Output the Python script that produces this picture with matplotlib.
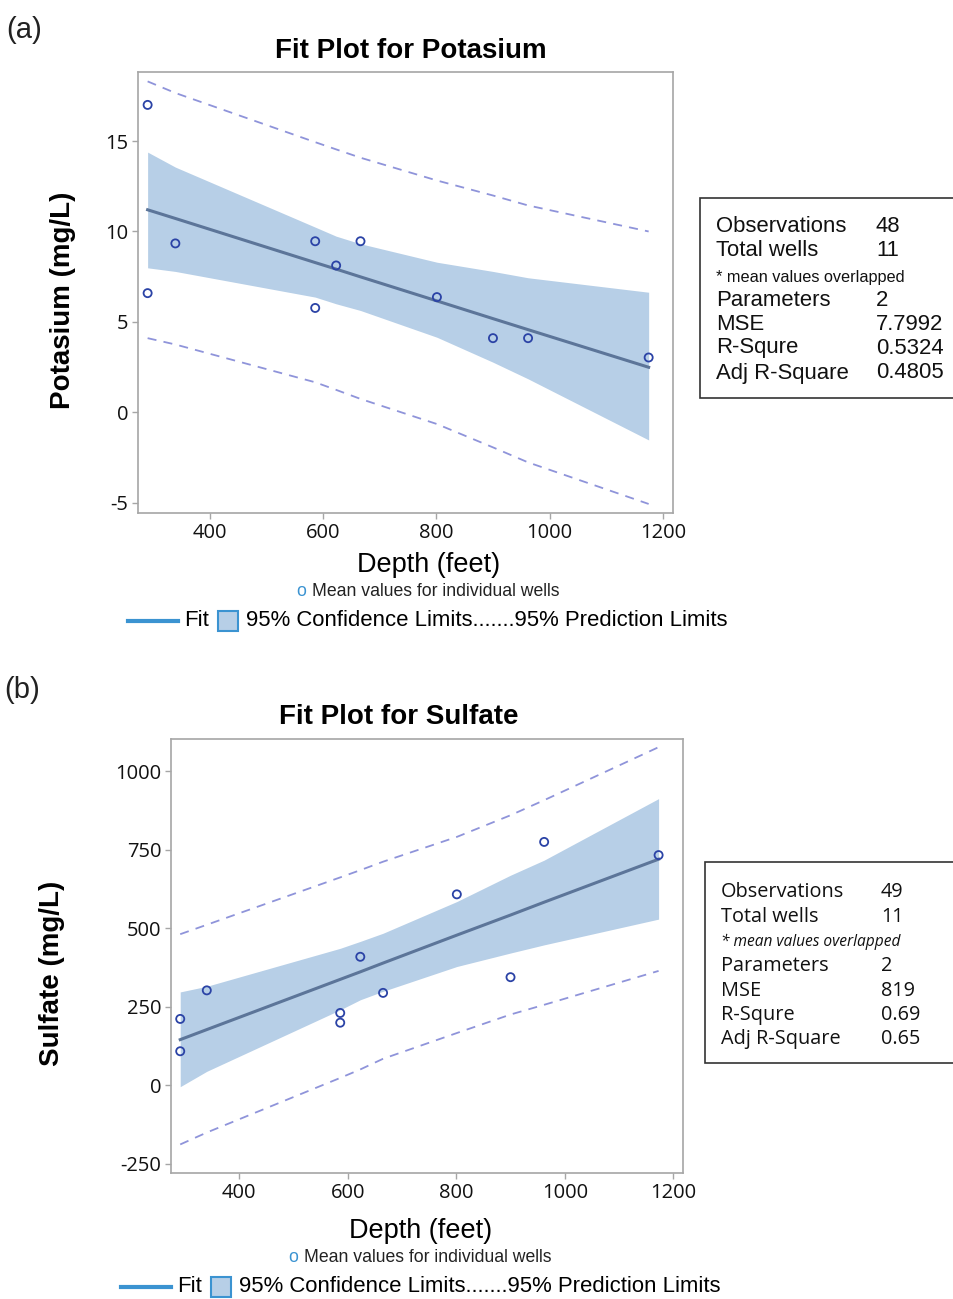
import matplotlib
matplotlib.use("Agg")
import matplotlib.pyplot as plt
from matplotlib.patches import Rectangle
from matplotlib.lines import Line2D

plt.rcParams['font.family'] = ['Liberation Sans', 'DejaVu Sans']
plt.rcParams['axes.unicode_minus'] = False

# ---------------- Data: Potassium ----------------
k_depth = [290, 339, 290, 586, 586, 623, 666, 801, 900, 962, 1175]
k_value = [17.0, 9.34, 6.59, 9.46, 5.77, 8.12, 9.46, 6.37, 4.10, 4.10, 3.03]
k_grid = [290, 339, 586, 623, 666, 801, 900, 962, 1175]
k_fit = [11.20, 10.72, 8.28, 7.92, 7.49, 6.16, 5.18, 4.57, 2.49]
k_cl_up = [14.39, 13.56, 10.24, 9.74, 9.32, 8.30, 7.79, 7.44, 6.64]
k_cl_lo = [7.99, 7.79, 6.37, 6.00, 5.63, 4.15, 2.77, 1.85, -1.53]
k_pl_up = [18.30, 17.66, 14.94, 14.54, 14.08, 12.82, 11.99, 11.44, 10.00]
k_pl_lo = [4.10, 3.75, 1.66, 1.24, 0.74, -0.65, -1.94, -2.77, -5.07]
k_xticks = [400, 600, 800, 1000, 1200]
k_yticks = [-5, 0, 5, 10, 15]

# ---------------- Data: Sulfate ----------------
s_depth = [291, 291, 340, 586, 586, 623, 665, 801, 900, 962, 1173]
s_value = [211, 108, 302, 230, 199, 409, 294, 608, 344, 775, 733]
s_grid = [291, 340, 586, 623, 665, 801, 900, 962, 1173]
s_fit = [145, 177, 337, 361, 389, 478, 542, 583, 720]
s_cl_up = [297, 315, 436, 458, 484, 585, 669, 717, 913]
s_cl_lo = [-5, 44, 240, 272, 299, 378, 421, 447, 529]
s_pl_up = [481, 511, 662, 685, 712, 791, 860, 908, 1077]
s_pl_lo = [-189, -151, 23, 50, 84, 166, 225, 256, 364]
s_xticks = [400, 600, 800, 1000, 1200]
s_yticks = [-250, 0, 250, 500, 750, 1000]

k_stats = [("Observations", "48"), ("Total wells", "11"), ("* mean values overlapped", None),
           ("Parameters", "2"), ("MSE", "7.7992"), ("R-Squre", "0.5324"), ("Adj R-Square", "0.4805")]
s_stats = [("Observations", "49"), ("Total wells", "11"), ("* mean values overlapped", None),
           ("Parameters", "2"), ("MSE", "819"), ("R-Squre", "0.69"), ("Adj R-Square", "0.65")]

W, H = 954, 1299
fig = plt.figure(figsize=(W / 100, H / 100), dpi=100)


def fx(x):
    return x / W


def fy(y):
    return 1 - y / H


FILL = '#b7cfe7'
FITC = '#5c7599'
DASHC = '#8f94da'
PTC = '#2b43a6'
SPINE = '#a6a6a6'
BLUE = '#3b93d1'


def panel(rect, grid, fit, clu, cll, plu, pll, xs, ys, xlim, ylim, xticks, yticks):
    ax = fig.add_axes(rect)
    ax.fill_between(grid, cll, clu, color=FILL, lw=0, zorder=1)
    ax.plot(grid, fit, color=FITC, lw=2.2, zorder=2)
    ax.plot(grid, plu, color=DASHC, lw=1.3, dashes=(5, 4), zorder=2)
    ax.plot(grid, pll, color=DASHC, lw=1.3, dashes=(5, 4), zorder=2)
    ax.scatter(xs, ys, s=34, facecolors='none', edgecolors=PTC, linewidths=1.3, zorder=3)
    ax.set_xlim(*xlim)
    ax.set_ylim(*ylim)
    ax.set_xticks(xticks)
    ax.set_yticks(yticks)
    for sp in ax.spines.values():
        sp.set_color(SPINE)
        sp.set_linewidth(1.2)
    ax.tick_params(direction='out', length=4, width=1, color=SPINE,
                   labelsize=14.5, labelcolor='#111111', pad=3)
    for lab in ax.get_xticklabels() + ax.get_yticklabels():
        lab.set_family(['Open Sans', 'DejaVu Sans'])
    return ax


# ---------------- Panel (a) ----------------
ax1 = panel([fx(138), fy(513), fx(673) - fx(138), fy(72) - fy(513)],
            k_grid, k_fit, k_cl_up, k_cl_lo, k_pl_up, k_pl_lo,
            k_depth, k_value, (273, 1218), (-5.57, 18.82), k_xticks, k_yticks)

# ---------------- Panel (b) ----------------
ax2 = panel([fx(171), fy(1173), fx(683) - fx(171), fy(739) - fy(1173)],
            s_grid, s_fit, s_cl_up, s_cl_lo, s_pl_up, s_pl_lo,
            s_depth, s_value, (274, 1218), (-280, 1103), s_xticks, s_yticks)


def annotations(label_xy, title, title_xy, ylabel, ylabel_xy, xlabel_xy, note_x, note_y, leg_y, leg_x0):
    fig.text(fx(label_xy[0]), fy(label_xy[1]), label_xy[2], fontsize=21, ha='left', va='center', color='#222222')
    fig.text(fx(title_xy[0]), fy(title_xy[1]), title, fontsize=20, fontweight='bold', ha='center', va='center')
    fig.text(fx(ylabel_xy[0]), fy(ylabel_xy[1]), ylabel, fontsize=20, fontweight='bold', rotation=90,
             ha='center', va='center')
    fig.text(fx(xlabel_xy[0]), fy(xlabel_xy[1]), "Depth (feet)", fontsize=19.5, ha='center', va='center')
    # note line
    fig.text(fx(note_x), fy(note_y), "Mean values for individual wells", fontsize=12.7,
             ha='left', va='center', color='#222222')
    fig.text(fx(note_x - 11), fy(note_y), "o", fontsize=12.7, ha='center', va='center', color=BLUE)
    # legend row
    fig.add_artist(Line2D([fx(leg_x0), fx(leg_x0 + 50)], [fy(leg_y), fy(leg_y)], color=BLUE, lw=3,
                          transform=fig.transFigure))
    fig.text(fx(leg_x0 + 56), fy(leg_y), "Fit", fontsize=15.9, ha='left', va='center')
    fig.add_artist(Rectangle((fx(leg_x0 + 90), fy(leg_y + 10)), fx(20), 20 / H, facecolor=FILL,
                             edgecolor=BLUE, lw=1.5, transform=fig.transFigure))
    fig.text(fx(leg_x0 + 118), fy(leg_y), "95% Confidence Limits.......95% Prediction Limits",
             fontsize=15.9, ha='left', va='center')


annotations((6, 30, "(a)"), "Fit Plot for Potasium", (411, 51), "Potasium (mg/L)", (63, 300),
            (429, 565), 312, 591, 621, 128)
annotations((4, 690, "(b)"), "Fit Plot for Sulfate", (399, 717), "Sulfate (mg/L)", (52, 973),
            (421, 1231), 304, 1257, 1287, 121)


def stats_box(x0, y0, y1, xval, rows_y, stats, family, size, small, italic):
    fig.add_artist(Rectangle((fx(x0), fy(y1)), fx(W + 20 - x0), (y1 - y0) / H, facecolor='white',
                             edgecolor='#333333', lw=1.2, transform=fig.transFigure, clip_on=False))
    for (name, val), yy in zip(stats, rows_y):
        if val is None:
            fig.text(fx(x0 + 16), fy(yy), name, fontsize=small, family=family,
                     style='italic' if italic else 'normal', ha='left', va='center', color='#111111')
        else:
            fig.text(fx(x0 + 16), fy(yy), name, fontsize=size, family=family, ha='left', va='center',
                     color='#111111')
            fig.text(fx(xval), fy(yy), val, fontsize=size, family=family, ha='left', va='center',
                     color='#111111')


stats_box(700, 198, 398, 876, [227, 251, 277, 300, 324, 348, 373], k_stats,
          ['Liberation Sans'], 15.9, 11.7, False)
stats_box(705, 862, 1063, 881, [892, 917, 942, 966, 991, 1015, 1039], s_stats,
          ['Open Sans'], 14.3, 11.2, True)

fig.savefig("out.png", dpi=100)
